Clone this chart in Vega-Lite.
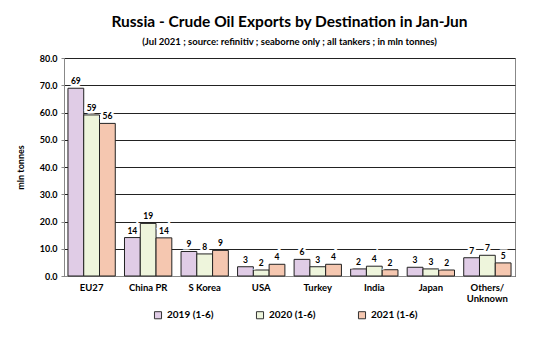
{
  "$schema": "https://vega.github.io/schema/vega-lite/v6.json",
  "width": 451,
  "height": 218,
  "padding": {"left": 16, "top": 15, "right": 5, "bottom": 5},
  "background": "white",
  "title": {
    "text": "Russia - Crude Oil Exports by Destination in Jan-Jun",
    "subtitle": "(Jul 2021 ; source: refinitiv ; seaborne only ; all tankers ; in mln tonnes)",
    "font": "Lato",
    "fontSize": 15.5,
    "fontWeight": "bold",
    "color": "black",
    "subtitleFont": "Lato",
    "subtitleFontSize": 9.5,
    "subtitleFontWeight": "bold",
    "subtitleColor": "black",
    "subtitlePadding": 6,
    "anchor": "middle",
    "offset": 8
  },
  "config": {
    "view": {"stroke": "#888888", "strokeWidth": 1},
    "font": "Lato"
  },
  "data": {
    "values": [
      {"dest": "EU27", "year": "2019 (1-6)", "value": 68.9, "label": "69"},
      {"dest": "EU27", "year": "2020 (1-6)", "value": 59.1, "label": "59"},
      {"dest": "EU27", "year": "2021 (1-6)", "value": 56.0, "label": "56"},
      {"dest": "China PR", "year": "2019 (1-6)", "value": 14.1, "label": "14"},
      {"dest": "China PR", "year": "2020 (1-6)", "value": 19.3, "label": "19"},
      {"dest": "China PR", "year": "2021 (1-6)", "value": 14.0, "label": "14"},
      {"dest": "S Korea", "year": "2019 (1-6)", "value": 9.0, "label": "9"},
      {"dest": "S Korea", "year": "2020 (1-6)", "value": 8.1, "label": "8"},
      {"dest": "S Korea", "year": "2021 (1-6)", "value": 9.4, "label": "9"},
      {"dest": "USA", "year": "2019 (1-6)", "value": 3.4, "label": "3"},
      {"dest": "USA", "year": "2020 (1-6)", "value": 2.2, "label": "2"},
      {"dest": "USA", "year": "2021 (1-6)", "value": 4.3, "label": "4"},
      {"dest": "Turkey", "year": "2019 (1-6)", "value": 6.1, "label": "6"},
      {"dest": "Turkey", "year": "2020 (1-6)", "value": 3.4, "label": "3"},
      {"dest": "Turkey", "year": "2021 (1-6)", "value": 4.3, "label": "4"},
      {"dest": "India", "year": "2019 (1-6)", "value": 2.6, "label": "2"},
      {"dest": "India", "year": "2020 (1-6)", "value": 3.6, "label": "4"},
      {"dest": "India", "year": "2021 (1-6)", "value": 2.3, "label": "2"},
      {"dest": "Japan", "year": "2019 (1-6)", "value": 3.2, "label": "3"},
      {"dest": "Japan", "year": "2020 (1-6)", "value": 2.6, "label": "3"},
      {"dest": "Japan", "year": "2021 (1-6)", "value": 2.2, "label": "2"},
      {"dest": "Others/Unknown", "year": "2019 (1-6)", "value": 6.7, "label": "7"},
      {"dest": "Others/Unknown", "year": "2020 (1-6)", "value": 7.6, "label": "7"},
      {"dest": "Others/Unknown", "year": "2021 (1-6)", "value": 4.8, "label": "5"}
    ]
  },
  "encoding": {
    "x": {
      "field": "dest",
      "type": "nominal",
      "sort": null,
      "scale": {"paddingInner": 0.163, "paddingOuter": 0.07},
      "axis": {
        "title": null,
        "labelAngle": 0,
        "labelFont": "Lato",
        "labelFontWeight": "bold",
        "labelFontSize": 9.5,
        "labelColor": "black",
        "labelPadding": 6,
        "ticks": false,
        "domainColor": "#888888",
        "labelExpr": "datum.value == 'Others/Unknown' ? ['Others/', 'Unknown'] : datum.value"
      }
    },
    "xOffset": {"field": "year", "type": "nominal"},
    "y": {
      "field": "value",
      "type": "quantitative",
      "scale": {"domain": [0, 80]},
      "axis": {
        "title": "mln tonnes",
        "titleFont": "Lato",
        "titleFontWeight": "bold",
        "titleFontSize": 9,
        "titleColor": "black",
        "titlePadding": 14,
        "format": ".1f",
        "values": [0, 10, 20, 30, 40, 50, 60, 70, 80],
        "labelOverlap": false,
        "labelFont": "Lato",
        "labelFontWeight": "bold",
        "labelFontSize": 9,
        "labelColor": "black",
        "labelPadding": 4,
        "ticks": true,
        "tickSize": 3,
        "tickColor": "#888888",
        "domainColor": "#888888",
        "grid": true,
        "gridColor": "#222222",
        "gridWidth": 1,
        "gridOpacity": 1
      }
    }
  },
  "layer": [
    {
      "mark": {"type": "bar", "stroke": "#222222", "strokeWidth": 1},
      "encoding": {
        "fill": {
          "field": "year",
          "type": "nominal",
          "scale": {
            "domain": ["2019 (1-6)", "2020 (1-6)", "2021 (1-6)"],
            "range": ["#E0CCE6", "#EEF5DC", "#F5C7B0"]
          },
          "legend": {
            "title": null,
            "orient": "none",
            "legendX": 89,
            "legendY": 252,
            "direction": "horizontal",
            "symbolType": "square",
            "symbolSize": 50,
            "symbolStrokeColor": "#333333",
            "symbolStrokeWidth": 1,
            "labelFont": "Lato",
            "labelFontWeight": "bold",
            "labelFontSize": 10,
            "labelColor": "black",
            "columnPadding": 40
          }
        }
      }
    },
    {
      "mark": {"type": "text", "dy": -7, "font": "Lato", "fontWeight": "bold", "fontSize": 8.5, "stroke": "white", "strokeWidth": 5, "fill": "white"},
      "encoding": {
        "text": {"field": "label"}
      }
    },
    {
      "mark": {"type": "text", "dy": -7, "font": "Lato", "fontWeight": "bold", "fontSize": 8.5, "color": "black"},
      "encoding": {
        "text": {"field": "label"}
      }
    }
  ]
}
